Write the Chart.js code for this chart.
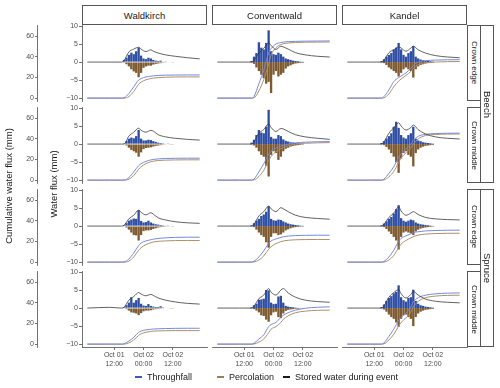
<!DOCTYPE html>
<html>
<head>
<meta charset="utf-8">
<script src="https://cdn.jsdelivr.net/npm/chart.js@4.4.1/dist/chart.umd.min.js"></script>
<style>
  body { margin: 0; background: #fff; font-family: "Liberation Sans", Arial, sans-serif; }
  #fig { position: relative; width: 500px; height: 388px; overflow: hidden; }
  canvas { position: absolute; }
  .strip { position: absolute; box-sizing: border-box; border: 1px solid #555; background: #fff; color: #1a1a1a;
           display: flex; align-items: center; justify-content: center; white-space: nowrap; }
  .top { font-size: 9.5px; }
  .side { writing-mode: vertical-rl; font-size: 8px; }
  .outer { writing-mode: vertical-rl; font-size: 9.5px; }
  .ytitle { position: absolute; transform: translate(-50%, -50%) rotate(-90deg); font-size: 9.5px; color: #1a1a1a; white-space: nowrap; }
  .leg { position: absolute; top: 371px; font-size: 9px; color: #1a1a1a; white-space: nowrap; line-height: 12px; }
  .dash { position: absolute; top: 376px; width: 7px; height: 2px; }
</style>
</head>
<body>
<div id="fig"></div>
<script>
// categories
const sites = ['Waldkirch', 'Conventwald', 'Kandel'];
const species = ['Beech', 'Spruce'];
const positions = ['Crown edge', 'Crown middle'];

// time axis (hours since Oct 01 00:00)
const barHours = [15, 16, 17, 18, 19, 20, 21, 22, 23, 24, 25, 26, 27, 28, 29, 30, 31, 32, 33, 34, 35, 36];
const lineHours = [1, 10, 15, 16, 18, 20, 22, 23, 25, 27, 28, 30, 33, 37, 42, 47];
const tickHours = [12, 24, 36];
const tickLabels = [['Oct 01', '12:00'], ['Oct 02', '00:00'], ['Oct 02', '12:00']];
const fluxTicks = [-10, -5, 0, 5, 10];
const cumTicks = [0, 20, 40, 60];

// tf = throughfall (mm), pc = percolation (mm), st = stored water (mm),
// ct = cumulative throughfall (mm), cp = cumulative percolation (mm)
const tfWalBeechEdge = [0.1, 0.6, 1.2, 2.0, 2.6, 2.2, 3.0, 4.0, 1.8, 1.0, 0.8, 1.2, 1.0, 0.6, 0.4, 0.3, 0.4, 0.1, 0.05, 0, 0, 0];
const pcWalBeechEdge = [0, -0.2, -0.6, -1.2, -2.0, -2.6, -3.0, -4.2, -3.0, -1.6, -1.2, -1.0, -1.0, -0.7, -0.5, -0.4, -0.3, -0.2, -0.15, -0.1, -0.1, -0.05];
const stWalBeechEdge = [0, 0, 0, 0.4, 2.8, 3.6, 4.1, 3.6, 2.9, 3.4, 3.0, 2.5, 2.0, 1.6, 1.2, 0.9];
const ctWalBeechEdge = [0, 0, 0, 0.3, 4.5, 11, 17.5, 19, 20.6, 21.3, 21.6, 22, 22.3, 22.4, 22.5, 22.5];
const cpWalBeechEdge = [0, 0, 0, 0, 1.5, 6.5, 13.5, 15.5, 17.8, 19, 19.4, 19.9, 20.3, 20.5, 20.6, 20.6];

const tfConBeechEdge = [0.3, 1.5, 2.5, 5.5, 4.0, 3.5, 5.3, 8.8, 3.0, 2.2, 2.0, 2.6, 2.2, 1.5, 1.0, 0.8, 0.6, 0.4, 0.3, 0.2, 0.1, 0.05];
const pcConBeechEdge = [-0.1, -0.5, -1.5, -2.5, -3.5, -4.5, -6.0, -5.5, -8.6, -3.5, -2.5, -4.0, -3.5, -3.0, -1.8, -1.2, -0.9, -0.6, -0.4, -0.3, -0.2, -0.15];
const stConBeechEdge = [0, 0, 0, 0.5, 2.5, 3.8, 5.3, 4.6, 3.5, 4.4, 4.2, 3.6, 2.6, 2.0, 1.6, 1.4];
const ctConBeechEdge = [0, 0, 0, 1.5, 14, 27, 44, 48, 52.5, 54, 54.4, 54.8, 55.1, 55.3, 55.4, 55.5];
const cpConBeechEdge = [0, 0, 0, 0.3, 7, 18, 33, 42, 49, 52, 52.8, 53.5, 54, 54.3, 54.4, 54.5];

const tfKanBeechEdge = [0.3, 0.8, 1.5, 2.0, 2.5, 3.5, 4.0, 5.3, 3.5, 2.0, 1.5, 2.5, 3.0, 4.4, 1.5, 1.0, 0.7, 0.5, 0.4, 0.3, 0.2, 0.1];
const pcKanBeechEdge = [-0.1, -0.3, -0.8, -1.5, -2.0, -2.5, -3.0, -4.0, -3.0, -2.0, -1.5, -2.0, -2.5, -4.3, -2.0, -1.2, -0.8, -0.6, -0.4, -0.3, -0.2, -0.15];
const stKanBeechEdge = [0, 0, 0, 0.5, 2.6, 3.4, 4.2, 3.9, 3.0, 3.9, 4.4, 3.4, 2.5, 1.8, 1.4, 1.2];
const ctKanBeechEdge = [0, 0, 0, 1.5, 8, 16, 20, 21.5, 24.5, 29, 32, 35, 36.3, 36.9, 37.2, 37.3];
const cpKanBeechEdge = [0, 0, 0, 0.3, 4, 11, 16.5, 18.5, 22, 26, 29, 32.5, 34.3, 35, 35.4, 35.5];

const tfWalBeechMiddle = [0, 0.2, 0.8, 1.5, 1.8, 1.6, 2.2, 3.9, 1.5, 1.0, 1.0, 1.2, 1.1, 0.8, 0.6, 0.4, 0.3, 0.2, 0.1, 0.05, 0, 0];
const pcWalBeechMiddle = [0, -0.1, -0.4, -1.0, -1.6, -2.0, -2.4, -3.5, -2.3, -1.4, -1.1, -1.0, -0.9, -0.7, -0.5, -0.4, -0.3, -0.2, -0.15, -0.1, -0.05, -0.05];
const stWalBeechMiddle = [0, 0, 0, 0, 2.2, 3.3, 4.4, 3.8, 3.3, 3.8, 3.6, 2.6, 2.0, 1.6, 1.3, 1.1];
const ctWalBeechMiddle = [0, 0, 0, 0, 2.5, 8, 14, 16, 18.2, 19.6, 20.1, 20.6, 21, 21.2, 21.3, 21.3];
const cpWalBeechMiddle = [0, 0, 0, 0, 0.8, 4.5, 10.5, 13, 16, 17.8, 18.4, 19, 19.4, 19.6, 19.7, 19.7];

const tfConBeechMiddle = [0.4, 1.2, 2.5, 3.9, 3.2, 3.0, 4.8, 9.5, 2.0, 1.5, 1.5, 2.5, 2.2, 1.3, 0.9, 0.7, 0.5, 0.4, 0.3, 0.2, 0.1, 0.05];
const pcConBeechMiddle = [-0.1, -0.4, -1.0, -2.0, -3.0, -3.5, -6.0, -9.0, -3.0, -2.0, -2.5, -4.4, -3.5, -2.0, -1.3, -1.0, -0.7, -0.5, -0.4, -0.3, -0.2, -0.1];
const stConBeechMiddle = [0, 0, 0, 0.6, 3.0, 4.0, 5.6, 4.6, 3.5, 4.3, 4.2, 3.5, 2.6, 2.0, 1.6, 1.3];
const ctConBeechMiddle = [0, 0, 0, 1.0, 8, 16, 25, 28, 31, 33, 33.8, 35, 36.2, 36.8, 37.2, 37.4];
const cpConBeechMiddle = [0, 0, 0, 0.2, 3.5, 9.5, 19, 23, 27.5, 30.5, 31.5, 33.3, 35, 35.8, 36.2, 36.4];

const tfKanBeechMiddle = [0.3, 0.8, 1.5, 2.2, 3.0, 4.8, 6.2, 4.5, 2.5, 1.8, 1.5, 2.5, 3.0, 4.8, 1.5, 1.0, 0.8, 0.5, 0.4, 0.3, 0.2, 0.1];
const pcKanBeechMiddle = [-0.1, -0.3, -0.8, -1.5, -2.5, -3.5, -5.0, -8.0, -4.0, -2.5, -2.0, -3.0, -3.5, -6.2, -2.5, -1.5, -1.0, -0.7, -0.5, -0.4, -0.3, -0.2];
const stKanBeechMiddle = [0, 0, 0, 0.6, 3.0, 4.5, 5.9, 5.0, 3.9, 4.6, 5.3, 4.0, 2.8, 2.0, 1.6, 1.4];
const ctKanBeechMiddle = [0, 0, 0, 1.0, 6.5, 13, 22, 25.5, 30, 35, 38.5, 42.5, 44.5, 45.2, 45.5, 45.6];
const cpKanBeechMiddle = [0, 0, 0, 0.2, 3.2, 8.5, 17, 21.5, 26.5, 31.5, 35, 40, 43.3, 44.3, 44.7, 44.8];

const tfWalSpruceEdge = [0, 0.3, 0.8, 1.5, 1.8, 2.1, 2.0, 4.4, 1.4, 1.0, 1.1, 1.5, 1.0, 0.7, 0.5, 0.4, 0.3, 0.2, 0.1, 0.05, 0, 0];
const pcWalSpruceEdge = [0, -0.1, -0.4, -1.0, -1.8, -2.5, -2.6, -4.0, -2.5, -1.4, -1.2, -1.2, -1.1, -0.8, -0.6, -0.4, -0.3, -0.25, -0.2, -0.15, -0.1, -0.05];
const stWalSpruceEdge = [0, 0, 0, 0.2, 2.0, 3.0, 4.4, 3.8, 3.1, 3.7, 3.3, 2.3, 1.7, 1.2, 0.9, 0.75];
const ctWalSpruceEdge = [0, 0, 0, 0.2, 3, 9, 16, 18.5, 20.6, 21.7, 22.3, 23, 23.6, 24, 24.2, 24.2];
const cpWalSpruceEdge = [0, 0, 0, 0, 1, 5, 11.5, 14, 17, 18.8, 19.5, 20.2, 20.6, 20.9, 21, 21];

const tfConSpruceEdge = [0.2, 0.8, 1.5, 2.0, 2.8, 3.2, 4.0, 5.5, 2.0, 1.6, 1.5, 1.8, 1.7, 1.3, 1.0, 0.7, 0.5, 0.4, 0.3, 0.2, 0.1, 0.05];
const pcConSpruceEdge = [-0.1, -0.3, -1.0, -1.8, -2.5, -3.0, -4.5, -6.0, -3.0, -2.0, -2.0, -2.5, -2.3, -1.8, -1.2, -0.9, -0.6, -0.4, -0.3, -0.2, -0.15, -0.1];
const stConSpruceEdge = [0, 0, 0, 0.5, 2.8, 4.0, 5.5, 4.8, 4.0, 5.1, 4.8, 4.0, 3.0, 2.4, 2.1, 1.9];
const ctConSpruceEdge = [0, 0, 0, 0.8, 5, 11, 18, 20.5, 22.5, 24, 24.6, 25.3, 25.8, 26, 26.1, 26.1];
const cpConSpruceEdge = [0, 0, 0, 0.2, 2, 6, 12.5, 15, 18, 19.8, 20.5, 21.2, 21.7, 21.9, 22, 22];

const tfKanSpruceEdge = [0.2, 0.7, 1.3, 2.0, 2.5, 3.5, 4.7, 5.8, 2.2, 1.5, 1.2, 1.5, 1.8, 1.6, 1.0, 0.7, 0.5, 0.4, 0.3, 0.2, 0.1, 0.05];
const pcKanSpruceEdge = [-0.1, -0.3, -0.8, -1.5, -2.2, -3.0, -4.0, -6.5, -3.0, -1.8, -1.5, -1.8, -2.0, -2.5, -1.5, -1.0, -0.7, -0.5, -0.4, -0.3, -0.2, -0.1];
const stKanSpruceEdge = [0, 0, 0, 0.5, 2.4, 3.6, 5.3, 4.2, 3.0, 3.6, 4.0, 3.2, 2.4, 2.0, 1.8, 1.7];
const ctKanSpruceEdge = [0, 0, 0, 0.7, 5, 11.5, 20, 23, 25.5, 27.5, 28.5, 29.5, 30.3, 30.7, 31, 31];
const cpKanSpruceEdge = [0, 0, 0, 0.1, 2, 6.5, 14, 17.5, 21, 23.5, 24.8, 26.2, 27.2, 27.7, 28, 28];

const tfWalSpruceMiddle = [0, 0.3, 0.8, 1.5, 3.0, 1.5, 2.2, 2.8, 1.2, 0.7, 0.6, 1.1, 0.6, 0.4, 0.3, 0.3, 0.5, 0.2, 0.1, 0, 0, 0];
const pcWalSpruceMiddle = [0, -0.1, -0.3, -0.7, -1.2, -1.3, -1.5, -1.95, -1.4, -0.9, -0.7, -0.7, -0.6, -0.4, -0.3, -0.25, -0.2, -0.15, -0.1, -0.1, -0.05, -0.05];
const stWalSpruceMiddle = [0, 0.2, 0, 0.2, 2.2, 3.2, 4.3, 3.9, 3.4, 3.8, 3.5, 2.8, 2.2, 1.7, 1.3, 1.1];
const ctWalSpruceMiddle = [0, 0, 0, 0.3, 3, 6.5, 11.5, 12.7, 13.8, 14.4, 14.6, 14.9, 15.1, 15.3, 15.4, 15.4];
const cpWalSpruceMiddle = [0, 0, 0, 0, 1.2, 4, 8.5, 10, 11.5, 12.3, 12.6, 12.8, 13, 13.1, 13.1, 13.1];

const tfConSpruceMiddle = [0.2, 0.8, 1.2, 2.3, 2.4, 2.6, 5.0, 4.9, 1.5, 1.1, 1.2, 3.2, 3.4, 1.5, 0.6, 0.4, 0.3, 0.2, 0.1, 0.05, 0, 0];
const pcConSpruceMiddle = [-0.1, -0.3, -0.7, -1.2, -2.0, -2.2, -3.2, -3.8, -2.0, -1.2, -1.0, -2.5, -2.8, -1.5, -0.8, -0.5, -0.4, -0.3, -0.2, -0.15, -0.1, -0.05];
const stConSpruceMiddle = [0, 0, 0, 0.5, 2.6, 3.6, 5.4, 4.4, 3.6, 5.0, 5.4, 4.2, 3.0, 2.2, 1.8, 1.6];
const ctConSpruceMiddle = [0, 0, 0, 0.8, 5, 9, 17, 19, 21, 26, 28, 30.5, 33, 34.8, 35.8, 36.2];
const cpConSpruceMiddle = [0, 0, 0, 0.1, 2, 5, 11, 14.5, 17, 21, 24, 27.5, 30.5, 32, 32.8, 33];

const tfKanSpruceMiddle = [0.3, 1.0, 2.0, 2.8, 3.3, 4.1, 4.5, 6.3, 3.0, 2.2, 1.8, 2.8, 3.0, 5.1, 2.0, 1.2, 0.8, 0.6, 0.4, 0.3, 0.2, 0.1];
const pcKanSpruceMiddle = [-0.1, -0.4, -1.0, -1.8, -2.5, -3.0, -4.0, -5.2, -3.0, -2.0, -1.8, -2.5, -3.0, -5.0, -2.5, -1.5, -1.0, -0.7, -0.5, -0.4, -0.3, -0.2];
const stKanSpruceMiddle = [0, 0, 0, 0.6, 3.0, 4.3, 5.1, 4.0, 2.8, 3.8, 4.6, 3.6, 2.5, 1.9, 1.6, 1.45];
const ctKanSpruceMiddle = [0, 0, 0, 1.2, 7.5, 14.5, 23, 26, 30, 36, 41, 45, 47.5, 48.8, 49.5, 49.7];
const cpKanSpruceMiddle = [0, 0, 0, 0.3, 4, 9.5, 17.5, 21, 25.5, 31, 36, 41.5, 45, 46.6, 47.3, 47.5];

// panel grid: rows = species x position, cols = sites
const panels = [
  { row: 0, col: 0, tf: tfWalBeechEdge, pc: pcWalBeechEdge, st: stWalBeechEdge, ct: ctWalBeechEdge, cp: cpWalBeechEdge },
  { row: 0, col: 1, tf: tfConBeechEdge, pc: pcConBeechEdge, st: stConBeechEdge, ct: ctConBeechEdge, cp: cpConBeechEdge },
  { row: 0, col: 2, tf: tfKanBeechEdge, pc: pcKanBeechEdge, st: stKanBeechEdge, ct: ctKanBeechEdge, cp: cpKanBeechEdge },
  { row: 1, col: 0, tf: tfWalBeechMiddle, pc: pcWalBeechMiddle, st: stWalBeechMiddle, ct: ctWalBeechMiddle, cp: cpWalBeechMiddle },
  { row: 1, col: 1, tf: tfConBeechMiddle, pc: pcConBeechMiddle, st: stConBeechMiddle, ct: ctConBeechMiddle, cp: cpConBeechMiddle },
  { row: 1, col: 2, tf: tfKanBeechMiddle, pc: pcKanBeechMiddle, st: stKanBeechMiddle, ct: ctKanBeechMiddle, cp: cpKanBeechMiddle },
  { row: 2, col: 0, tf: tfWalSpruceEdge, pc: pcWalSpruceEdge, st: stWalSpruceEdge, ct: ctWalSpruceEdge, cp: cpWalSpruceEdge },
  { row: 2, col: 1, tf: tfConSpruceEdge, pc: pcConSpruceEdge, st: stConSpruceEdge, ct: ctConSpruceEdge, cp: cpConSpruceEdge },
  { row: 2, col: 2, tf: tfKanSpruceEdge, pc: pcKanSpruceEdge, st: stKanSpruceEdge, ct: ctKanSpruceEdge, cp: cpKanSpruceEdge },
  { row: 3, col: 0, tf: tfWalSpruceMiddle, pc: pcWalSpruceMiddle, st: stWalSpruceMiddle, ct: ctWalSpruceMiddle, cp: cpWalSpruceMiddle },
  { row: 3, col: 1, tf: tfConSpruceMiddle, pc: pcConSpruceMiddle, st: stConSpruceMiddle, ct: ctConSpruceMiddle, cp: cpConSpruceMiddle },
  { row: 3, col: 2, tf: tfKanSpruceMiddle, pc: pcKanSpruceMiddle, st: stKanSpruceMiddle, ct: ctKanSpruceMiddle, cp: cpKanSpruceMiddle }
];

// layout
const colLeft = [82, 212, 342];
const rowTop = [25, 107, 189, 271];
const panelW = 125, panelH = 76, PAD = 6, XAXIS_H = 30;
const axisColor = '#4d4d4d';

Chart.defaults.font.family = '"Liberation Sans", Arial, sans-serif';
const fig = document.getElementById('fig');

function addDiv(cls, text, css) {
  const d = document.createElement('div');
  d.className = cls;
  d.textContent = text;
  Object.assign(d.style, css);
  fig.appendChild(d);
  return d;
}

function makePanel(p) {
  const firstCol = p.col === 0;
  const bottom = p.row === 3;
  const left = firstCol ? 0 : colLeft[p.col];
  const width = colLeft[p.col] + panelW - left + 3;
  const height = PAD + panelH + (bottom ? XAXIS_H : PAD);

  const canvas = document.createElement('canvas');
  canvas.width = width;
  canvas.height = height;
  canvas.style.left = left + 'px';
  canvas.style.top = (rowTop[p.row] - PAD) + 'px';
  fig.appendChild(canvas);

  const pts = (xs, ys) => xs.map((h, i) => ({ x: h, y: ys[i] }));
  const lineStyle = { type: 'line', pointRadius: 0, cubicInterpolationMode: 'monotone', order: 0 };

  new Chart(canvas, {
    type: 'bar',
    data: {
      datasets: [
        Object.assign({ data: pts(lineHours, p.st), yAxisID: 'flux', borderColor: '#3a3a3a', borderWidth: 0.8 }, lineStyle),
        Object.assign({ data: pts(lineHours, p.ct), yAxisID: 'cum', borderColor: '#7589dc', borderWidth: 1 }, lineStyle),
        Object.assign({ data: pts(lineHours, p.cp), yAxisID: 'cum', borderColor: '#ad8f6b', borderWidth: 1 }, lineStyle),
        { type: 'bar', data: pts(barHours, p.tf), yAxisID: 'flux', backgroundColor: '#2f4ea3', grouped: false,
          barPercentage: 0.95, categoryPercentage: 1, order: 1 },
        { type: 'bar', data: pts(barHours, p.pc), yAxisID: 'flux', backgroundColor: '#7d5a2f', grouped: false,
          barPercentage: 0.95, categoryPercentage: 1, order: 1 }
      ]
    },
    options: {
      responsive: false,
      animation: false,
      events: [],
      layout: { autoPadding: false, padding: { top: PAD, bottom: bottom ? 0 : PAD, left: 0, right: 3 } },
      plugins: { legend: { display: false }, tooltip: { enabled: false } },
      scales: {
        x: {
          type: 'linear', min: -1.2, max: 50, offset: false, display: bottom,
          grid: { drawOnChartArea: false, tickLength: 3, color: axisColor, lineWidth: 0.8, offset: false },
          border: { display: true, color: axisColor, width: 0.8 },
          ticks: { font: { size: 7 }, color: axisColor, padding: 1, maxRotation: 0, autoSkip: false,
                   callback: (v, i) => tickLabels[i] },
          afterBuildTicks: s => { s.ticks = tickHours.map(v => ({ value: v })); },
          afterFit: s => { s.height = bottom ? XAXIS_H : 0; }
        },
        flux: {
          type: 'linear', position: 'left', min: -10.8, max: 10.28, display: firstCol, weight: 0,
          grid: { drawOnChartArea: false, tickLength: 3, color: axisColor, lineWidth: 0.8 },
          border: { display: true, color: axisColor, width: 0.8 },
          ticks: { font: { size: 7 }, color: axisColor, padding: 1,
                   callback: v => v < 0 ? '\u2212' + Math.abs(v) : String(v) },
          afterBuildTicks: s => { s.ticks = fluxTicks.map(v => ({ value: v })); },
          afterFit: s => { s.width = firstCol ? 45 : 0; }
        },
        cum: {
          type: 'linear', position: 'left', min: -2.8, max: 70.98, display: firstCol, weight: 10,
          grid: { drawOnChartArea: false, tickLength: 2, color: axisColor, lineWidth: 0.8 },
          border: { display: true, color: axisColor, width: 0.8 },
          ticks: { font: { size: 7 }, color: axisColor, padding: 1 },
          afterBuildTicks: s => { s.ticks = cumTicks.map(v => ({ value: v })); },
          afterFit: s => { s.width = firstCol ? 37 : 0; }
        }
      }
    }
  });
}

panels.forEach(makePanel);

// facet strips
sites.forEach((s, c) => addDiv('strip top', s, { left: colLeft[c] + 'px', top: '5px', width: panelW + 'px', height: '20px' }));
rowTop.forEach((t, r) => addDiv('strip side', positions[r % 2], { left: '467px', top: t + 'px', width: '14px', height: panelH + 'px' }));
species.forEach((s, i) => addDiv('strip outer', s, { left: '480px', top: rowTop[i * 2] + 'px', width: '14px',
  height: (rowTop[i * 2 + 1] + panelH - rowTop[i * 2]) + 'px' }));

// axis titles
addDiv('ytitle', 'Cumulative water flux (mm)', { left: '8px', top: '186px' });
addDiv('ytitle', 'Water flux (mm)', { left: '53px', top: '184px' });

// legend
const legendItems = [
  { label: 'Throughfall', color: '#3b5bb5', x: 135 },
  { label: 'Percolation', color: '#a07c52', x: 217 },
  { label: 'Stored water during event', color: '#1a1a1a', x: 283 }
];
legendItems.forEach(it => {
  const d = addDiv('dash', '', { left: it.x + 'px' });
  d.style.background = it.color;
  addDiv('leg', it.label, { left: (it.x + 12) + 'px' });
});
</script>
</body>
</html>
